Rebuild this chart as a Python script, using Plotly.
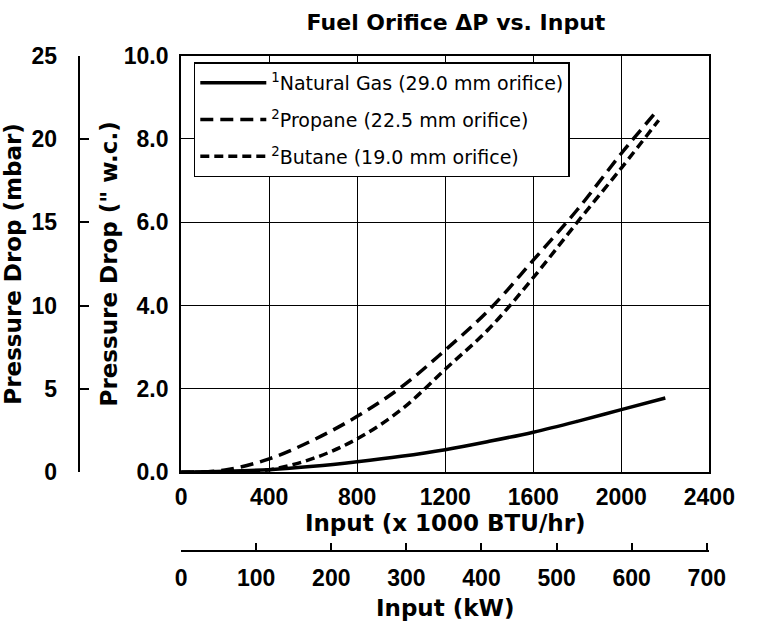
import plotly.graph_objects as go

# ---- data (x in 1000 BTU/hr, y in inches w.c.) ----
ng_x = [0, 200, 400, 600, 800, 1000, 1200, 1400, 1600, 1800, 2000, 2200]
ng_y = [0.0, 0.02, 0.06, 0.14, 0.25, 0.38, 0.54, 0.74, 0.96, 1.22, 1.50, 1.78]

pr_x = [0, 200, 400, 600, 800, 1000, 1200, 1400, 1600, 1800, 2000, 2160]
pr_y = [0.0, 0.05, 0.32, 0.77, 1.34, 2.04, 2.93, 3.90, 5.09, 6.30, 7.65, 8.66]

bu_x = [0, 200, 400, 600, 800, 1000, 1200, 1400, 1600, 1800, 2000, 2170]
bu_y = [0.0, 0.0, 0.06, 0.33, 0.80, 1.50, 2.47, 3.45, 4.67, 6.00, 7.30, 8.45]

names = ["<sup>1</sup>Natural Gas (29.0 mm orifice)",
         "<sup>2</sup>Propane (22.5 mm orifice)",
         "<sup>2</sup>Butane (19.0 mm orifice)"]

btu_ticks = [0, 400, 800, 1200, 1600, 2000, 2400]
wc_ticks = [0, 2, 4, 6, 8, 10]
mbar_ticks = [0, 5, 10, 15, 20, 25]
kw_ticks = [0, 100, 200, 300, 400, 500, 600, 700]
KBTU_PER_KW = 3.412

TICKFONT = "Liberation Sans"
TEXTFONT = "DejaVu Sans"
W, H = 759, 634
ML, MR, MT, MB = 20, 19, 40, 10
PW, PH = W - ML - MR, H - MT - MB

def fx(px):
    return (px - ML) / PW

def fy(py):
    return (H - MB - py) / PH

fig = go.Figure()
fig.add_trace(go.Scatter(x=ng_x, y=ng_y, mode="lines", name=names[0], legendgroup="a",
                         line=dict(color="black", width=3.5, shape="spline")))
fig.add_trace(go.Scatter(x=pr_x, y=pr_y, mode="lines", name=names[1], legendgroup="b",
                         line=dict(color="black", width=3.5, dash="13px,7px", shape="spline")))
fig.add_trace(go.Scatter(x=bu_x, y=bu_y, mode="lines", name=names[2], legendgroup="c",
                         line=dict(color="black", width=3.5, dash="9px,5px", shape="spline")))
# invisible helpers so the secondary axes get drawn
fig.add_trace(go.Scatter(x=[0] * len(mbar_ticks), y=mbar_ticks, yaxis="y2", mode="markers",
                         marker=dict(opacity=0), hoverinfo="skip", showlegend=False))
fig.add_trace(go.Scatter(x=kw_ticks, y=[0] * len(kw_ticks), xaxis="x3", mode="markers",
                         marker=dict(opacity=0), hoverinfo="skip", showlegend=False))

tick = dict(family=TICKFONT, size=23, color="black", weight="bold")
ttl = dict(family=TEXTFONT, size=23, color="black", weight="bold")

fig.update_layout(
    width=W, height=H,
    margin=dict(l=ML, r=MR, t=MT, b=MB),
    paper_bgcolor="white", plot_bgcolor="white",
    font=dict(family=TEXTFONT, color="black"),
    title=dict(text="Fuel Orifice ΔP vs. Input", x=456 / W, xanchor="center", xref="container",
               y=1 - 22 / H, yanchor="middle", yref="container",
               font=dict(family=TEXTFONT, size=22, color="black", weight="bold")),
    showlegend=True,
    legend=dict(x=fx(198), y=fy(63), xanchor="left", yanchor="top",
                bordercolor="black", borderwidth=1.5, bgcolor="white",
                font=dict(family=TEXTFONT, size=19, color="black"),
                tracegroupgap=9, itemwidth=66, traceorder="grouped"),
    xaxis=dict(domain=[fx(185), fx(726)], range=[0, 2400], tickvals=btu_ticks,
               showgrid=True, gridcolor="black", gridwidth=1,
               showline=True, linecolor="black", linewidth=2, mirror=True,
               ticks="", zeroline=False, tickfont=tick, ticklabelstandoff=3,
               title=dict(text="Input (x 1000 BTU/hr)", font=ttl, standoff=0)),
    yaxis=dict(domain=[fy(482), fy(56)], range=[0, 10], tickvals=wc_ticks,
               tickformat=".1f",
               showgrid=True, gridcolor="black", gridwidth=1,
               showline=True, linecolor="black", linewidth=2, mirror=True,
               ticks="", zeroline=False, tickfont=tick, ticklabelstandoff=6,
               title=dict(text="Pressure Drop (\" w.c.)", font=ttl, standoff=0)),
    yaxis2=dict(overlaying="y", anchor="free", position=fx(80), side="left",
                range=[0, 25], tickvals=mbar_ticks, showgrid=False, zeroline=False,
                showline=True, linecolor="black", linewidth=2,
                ticks="inside", ticklen=9, tickwidth=2, tickcolor="black",
                tickfont=tick, ticklabelstandoff=16,
                title=dict(text="Pressure Drop (mbar)", font=ttl, standoff=4)),
    xaxis3=dict(overlaying="x", anchor="free", position=fy(563), side="bottom",
                range=[0, 2400 / KBTU_PER_KW], tickvals=kw_ticks,
                showgrid=False, zeroline=False,
                showline=True, linecolor="black", linewidth=2,
                ticks="inside", ticklen=7, tickwidth=2, tickcolor="black",
                tickfont=tick, ticklabelstandoff=6,
                title=dict(text="Input (kW)", font=ttl, standoff=9)),
)

fig.write_html(
    "out.html",
    config={"displayModeBar": False},
    post_script="document.body.style.margin='0px';document.body.style.overflow='hidden';"
                "document.documentElement.style.overflow='hidden';",
)
